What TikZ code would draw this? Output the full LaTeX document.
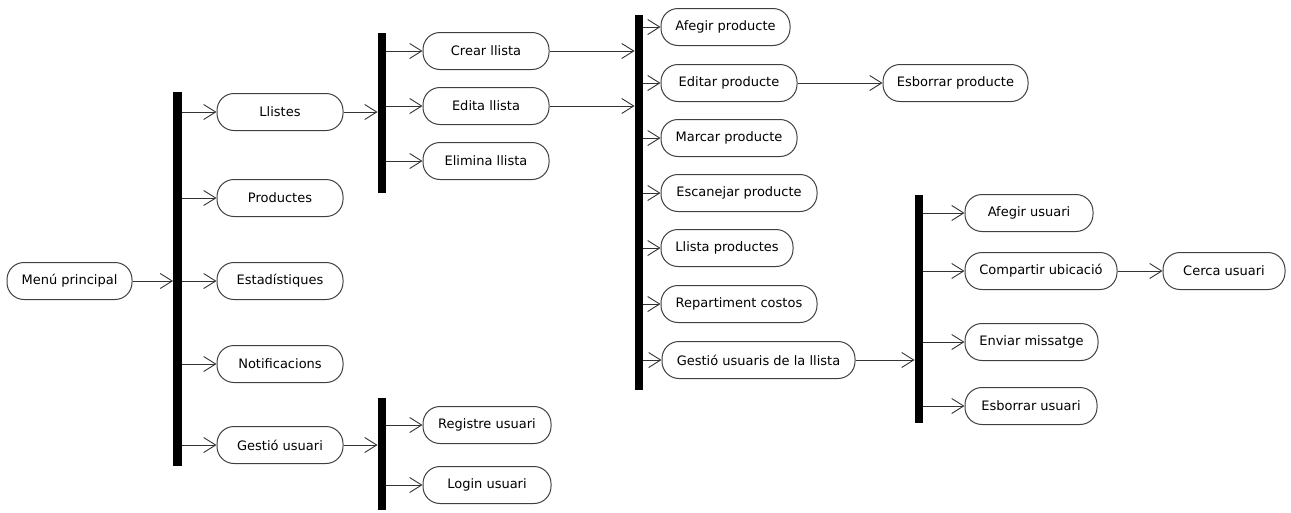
\documentclass[tikz,border=0pt]{standalone}
\usepackage{fontspec}
\setmainfont{DejaVu Sans}
\usetikzlibrary{arrows.meta}
\tikzset{
  act/.style={draw=black!75, line width=1pt, rounded corners=17pt, minimum height=37pt, inner sep=0pt, font=\fontsize{13}{15}\selectfont, fill=white},
  bar/.style={fill=black, draw=none, minimum width=8.5pt, inner sep=0pt},
  arr/.style={draw=black!80, line width=0.9pt, -{Straight Barb[length=12pt,width=15pt,line width=0.9pt]}},
}
\begin{document}
\begin{tikzpicture}[x=1pt,y=-1pt]
\useasboundingbox (0,0) rectangle (1291,512);
% bars
\node[bar, minimum height=374pt] (b1) at (177.5,279) {};
\node[bar, minimum height=160pt] (b2) at (382,113) {};
\node[bar, minimum height=112pt] (b3) at (382,454) {};
\node[bar, minimum height=375pt] (b4) at (639,202.5) {};
\node[bar, minimum height=228pt] (b5) at (919,309) {};
% nodes
\node[act, minimum width=125pt] (menu) at (69.5,281) {Menú principal};
\node[act, minimum width=126pt] (llistes) at (280,112) {Llistes};
\node[act, minimum width=126pt] (prod) at (280,198) {Productes};
\node[act, minimum width=126pt] (estad) at (280,281) {Estadístiques};
\node[act, minimum width=126pt] (notif) at (280,364) {Notificacions};
\node[act, minimum width=126pt] (gestu) at (280,445) {Gestió usuari};
\node[act, minimum width=126pt] (crear) at (486,51) {Crear llista};
\node[act, minimum width=126pt] (edita) at (486,106) {Edita llista};
\node[act, minimum width=126pt] (elim) at (486,161) {Elimina llista};
\node[act, minimum width=128pt] (regis) at (487,425) {Registre usuari};
\node[act, minimum width=128pt] (login) at (487,485) {Login usuari};
\node[act, minimum width=129pt] (afprod) at (725.5,27) {Afegir producte};
\node[act, minimum width=136pt] (edprod) at (729,83) {Editar producte};
\node[act, minimum width=136pt] (marc) at (729,138) {Marcar producte};
\node[act, minimum width=156pt] (escan) at (739,193) {Escanejar producte};
\node[act, minimum width=132pt] (llprod) at (727,248) {Llista productes};
\node[act, minimum width=156pt] (repart) at (739,304) {Repartiment costos};
\node[act, minimum width=193pt] (gestll) at (758.5,360) {Gestió usuaris de la llista};
\node[act, minimum width=145pt] (esprod) at (955.5,83) {Esborrar producte};
\node[act, minimum width=128pt] (afus) at (1029,213) {Afegir usuari};
\node[act, minimum width=152pt] (comp) at (1041,271) {Compartir ubicació};
\node[act, minimum width=133pt] (env) at (1031.5,342) {Enviar missatge};
\node[act, minimum width=132pt] (esus) at (1031,406) {Esborrar usuari};
\node[act, minimum width=122pt] (cerca) at (1224,271) {Cerca usuari};
% connectors into bars
\draw[arr] (menu.east) -- (menu -| b1.west);
\draw[arr] (llistes.east) -- (llistes -| b2.west);
\draw[arr] (gestu.east) -- (gestu -| b3.west);
\draw[arr] (crear.east) -- (crear -| b4.west);
\draw[arr] (edita.east) -- (edita -| b4.west);
\draw[arr] (gestll.east) -- (gestll -| b5.west);
% connectors out of bars
\foreach \n in {llistes,prod,estad,notif,gestu} \draw[arr] (\n -| b1.east) -- (\n.west);
\foreach \n in {crear,edita,elim} \draw[arr] (\n -| b2.east) -- (\n.west);
\foreach \n in {regis,login} \draw[arr] (\n -| b3.east) -- (\n.west);
\foreach \n in {afprod,edprod,marc,escan,llprod,repart,gestll} \draw[arr] (\n -| b4.east) -- (\n.west);
\foreach \n in {afus,comp,env,esus} \draw[arr] (\n -| b5.east) -- (\n.west);
% node to node
\draw[arr] (edprod.east) -- (esprod.west);
\draw[arr] (comp.east) -- (cerca.west);
\end{tikzpicture}
\end{document}
